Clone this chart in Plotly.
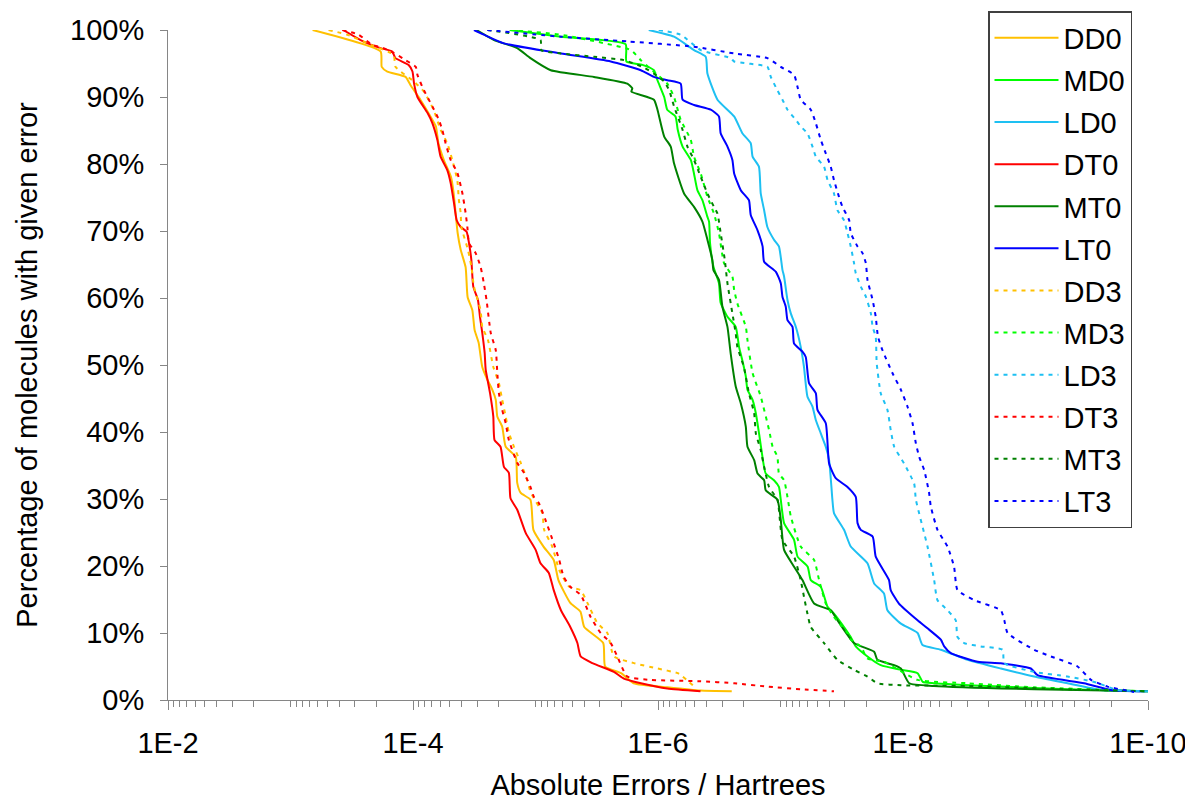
import plotly.graph_objects as go

# ---------------- data (absolute error in Hartrees, % of molecules) ----------------
DD0_err = [6.6e-4, 1.84e-4, 1.80e-4, 1.62e-4, 1.15e-4, 1.05e-4, 8.7e-5, 7.2e-5, 6.5e-5, 6.2e-5, 5.6e-5,
           4.9e-5, 4.66e-5, 4.49e-5, 4.32e-5, 4.08e-5, 3.72e-5, 3.58e-5, 3.28e-5, 3.14e-5, 2.91e-5,
           2.72e-5, 2.47e-5, 2.25e-5, 2.11e-5, 2.05e-5, 1.87e-5, 1.75e-5, 1.45e-5, 1.41e-5, 1.32e-5,
           1.10e-5, 1.04e-5, 8.6e-6, 7.1e-6, 6.5e-6, 5.2e-6, 4.3e-6, 4.0e-6, 2.8e-6, 2.7e-6, 2.0e-6,
           1.58e-6, 8.4e-7, 4.5e-7, 2.5e-7]
DD0_pct = [100, 96.8, 94.5, 93.8, 93.0, 91.8, 89.6, 87.1, 85.6, 83.1, 80.6,
           78.1, 75.7, 72.7, 69.7, 67.2, 64.6, 60.1, 58.2, 55.2, 53.3,
           49.7, 47.8, 46.3, 44.8, 42.3, 40.8, 37.8, 36.3, 32.4, 30.9,
           29.9, 25.4, 22.9, 20.9, 17.9, 14.5, 13.2, 10.9, 8.5, 5.0, 4.0,
           2.5, 1.9, 1.4, 1.3]

DT0_err = [3.71e-4, 2.68e-4, 1.84e-4, 1.48e-4, 1.39e-4, 1.09e-4, 1.01e-4, 9.8e-5, 9.2e-5, 7.6e-5, 6.95e-5,
           6.33e-5, 5.95e-5, 5.25e-5, 4.93e-5, 4.63e-5, 4.40e-5, 4.08e-5, 3.65e-5, 3.49e-5, 3.34e-5,
           3.22e-5, 2.95e-5, 2.84e-5, 2.72e-5, 2.60e-5, 2.55e-5, 2.35e-5, 2.21e-5, 2.16e-5, 1.93e-5,
           1.81e-5, 1.65e-5, 1.60e-5, 1.41e-5, 1.20e-5, 9.97e-6, 9.1e-6, 7.8e-6, 7.1e-6, 6.2e-6,
           5.2e-6, 4.55e-6, 4.28e-6, 3.43e-6, 2.29e-6, 1.90e-6, 1.38e-6, 8.4e-7, 4.5e-7]
DT0_pct = [100, 98.5, 97.3, 96.8, 95.8, 94.8, 93.8, 92.0, 90.0, 87.6, 86.1,
           83.6, 81.1, 79.1, 77.2, 74.2, 71.6, 70.6, 69.9, 68.2, 65.7,
           61.7, 59.7, 57.2, 54.8, 51.8, 49.3, 45.8, 42.3, 38.8, 37.8,
           34.8, 33.9, 30.1, 28.4, 24.9, 22.4, 20.4, 19.0, 16.4, 13.4,
           10.9, 8.5, 6.5, 5.5, 4.2, 3.2, 2.5, 1.7, 1.3]

DD3_err = [4.89e-4, 3.44e-4, 2.22e-4, 1.44e-4, 1.39e-4, 9.8e-5, 8.15e-5, 6.79e-5, 5.95e-5, 5.25e-5, 4.78e-5,
           4.35e-5, 4.22e-5, 4.08e-5, 4.03e-5, 3.56e-5, 3.34e-5, 3.18e-5, 2.81e-5, 2.72e-5, 2.44e-5,
           2.21e-5, 1.99e-5, 1.87e-5, 1.75e-5, 1.65e-5, 1.50e-5, 1.32e-5, 1.17e-5, 1.09e-5, 8.8e-6,
           8.5e-6, 7.3e-6, 6.4e-6, 5.3e-6, 4.28e-6, 3.77e-6, 3.13e-6, 2.59e-6, 2.29e-6, 1.57e-6,
           1.01e-6, 6.9e-7, 6.3e-7, 5.2e-7]
DD3_pct = [100, 99.3, 97.8, 96.3, 94.5, 92.3, 90.8, 88.1, 85.1, 83.1, 80.6,
           77.6, 74.6, 72.7, 70.6, 67.2, 64.7, 61.7, 58.2, 55.7, 53.7,
           49.7, 47.3, 44.8, 42.3, 39.9, 37.8, 35.4, 32.8, 30.9, 27.9,
           25.4, 22.9, 19.4, 16.9, 16.4, 14.5, 11.5, 10.0, 6.5, 5.5,
           4.7, 4.0, 3.5, 2.2]

DT3_err = [3.78e-4, 2.78e-4, 2.15e-4, 1.74e-4, 1.44e-4, 1.15e-4, 9.5e-5, 9.2e-5, 8.15e-5, 6.95e-5, 6.15e-5,
           5.77e-5, 5.42e-5, 4.93e-5, 4.35e-5, 3.96e-5, 3.72e-5, 3.60e-5, 3.49e-5, 3.08e-5, 2.81e-5,
           2.64e-5, 2.51e-5, 2.32e-5, 2.11e-5, 2.05e-5, 1.99e-5, 1.87e-5, 1.75e-5, 1.65e-5, 1.41e-5,
           1.24e-5, 1.10e-5, 1.03e-5, 9.4e-6, 8.3e-6, 7.1e-6, 6.4e-6, 5.9e-6, 5.2e-6, 4.28e-6,
           3.55e-6, 2.94e-6, 2.43e-6, 2.15e-6, 1.78e-6, 1.15e-6, 4.5e-7, 2.39e-7, 1.28e-7, 6.8e-8, 3.66e-8]
DT3_pct = [100, 99.3, 97.8, 97.3, 96.6, 95.5, 94.5, 93.3, 91.0, 88.6, 86.6,
           85.1, 83.1, 80.6, 78.7, 75.7, 72.7, 70.6, 68.2, 66.7, 64.7,
           62.2, 59.7, 54.8, 52.2, 48.8, 45.8, 43.3, 41.3, 38.8, 35.4,
           33.9, 31.8, 30.3, 29.4, 26.9, 23.4, 20.9, 18.4, 16.9, 15.7,
           12.4, 10.0, 8.5, 6.5, 3.5, 3.0, 2.8, 2.5, 2.0, 1.6, 1.3]

MD0_err = [1.62e-5, 6.2e-6, 1.84e-6, 1.81e-6, 1.34e-6, 1.08e-6, 1.01e-6, 8.9e-7, 8.4e-7, 7.2e-7, 6.9e-7,
           6.3e-7, 5.4e-7, 5.1e-7, 4.77e-7, 4.34e-7, 3.95e-7, 3.83e-7, 3.76e-7, 3.53e-7, 3.18e-7,
           3.08e-7, 2.71e-7, 2.32e-7, 2.18e-7, 2.05e-7, 1.92e-7, 1.86e-7, 1.69e-7, 1.59e-7, 1.50e-7,
           1.43e-7, 1.32e-7, 1.13e-7, 1.03e-7, 9.95e-8, 9.35e-8, 7.75e-8, 7.26e-8, 6.0e-8, 5.66e-8,
           4.69e-8, 4.13e-8, 3.66e-8, 3.03e-8, 2.67e-8, 2.43e-8, 1.95e-8, 1.52e-8, 1.04e-8, 7.6e-9,
           6.9e-9, 5.6e-9, 1.59e-9, 4.54e-10, 1.0e-10]
MD0_pct = [100, 99.0, 97.9, 95.3, 94.8, 94.0, 92.5, 90.0, 88.1, 87.1, 85.1,
           82.6, 80.6, 78.7, 76.1, 74.6, 72.1, 71.4, 68.2, 64.7, 62.2,
           59.3, 57.2, 55.7, 52.7, 50.7, 48.3, 46.3, 44.8, 42.8, 39.9,
           37.3, 33.8, 32.8, 31.8, 29.9, 26.4, 23.9, 21.4, 19.9, 17.9,
           16.9, 13.9, 12.9, 10.9, 9.4, 8.0, 6.5, 5.2, 4.5, 4.0,
           2.7, 2.5, 2.0, 1.6, 1.3]

MT0_err = [3.03e-5, 2.18e-5, 1.41e-5, 1.10e-5, 7.5e-6, 3.33e-6, 1.78e-6, 1.62e-6, 1.65e-6, 1.08e-6, 1.01e-6,
           8.9e-7, 7.87e-7, 7.4e-7, 6.13e-7, 5.08e-7, 4.34e-7, 3.95e-7, 3.6e-7, 3.53e-7, 3.18e-7,
           2.98e-7, 2.71e-7, 2.55e-7, 2.32e-7, 2.11e-7, 1.92e-7, 1.86e-7, 1.64e-7, 1.54e-7, 1.36e-7,
           1.32e-7, 1.06e-7, 9.95e-8, 9.35e-8, 7.75e-8, 6.62e-8, 5.32e-8, 3.89e-8, 3.43e-8, 2.51e-8,
           1.72e-8, 1.62e-8, 1.18e-8, 1.04e-8, 8.9e-9, 5.6e-9, 8.5e-10, 1.0e-10]
MT0_pct = [100, 98.5, 97.3, 95.8, 94.0, 93.0, 92.0, 91.3, 90.8, 89.6, 88.1,
           84.1, 82.6, 80.1, 75.6, 73.6, 71.4, 68.7, 65.7, 64.2, 62.7,
           58.7, 55.7, 51.7, 46.8, 44.3, 40.8, 37.8, 35.8, 33.8, 32.8,
           31.3, 29.9, 26.9, 22.4, 19.9, 17.9, 14.4, 13.4, 11.9, 8.5,
           7.2, 6.0, 5.2, 4.7, 2.5, 2.1, 1.6, 1.3]

MD3_err = [1.62e-5, 6.2e-6, 1.67e-6, 1.38e-6, 1.04e-6, 8.4e-7, 7.4e-7, 6.53e-7, 5.4e-7, 5.08e-7, 4.48e-7,
           3.95e-7, 3.49e-7, 3.18e-7, 2.89e-7, 2.47e-7, 2.39e-7, 2.25e-7, 1.92e-7, 1.86e-7, 1.69e-7,
           1.45e-7, 1.24e-7, 1.16e-7, 1.06e-7, 1.03e-7, 9.35e-8, 8.77e-8, 8.24e-8, 6.84e-8, 5.32e-8,
           4.84e-8, 4.27e-8, 3.66e-8, 2.84e-8, 2.67e-8, 2.21e-8, 1.95e-8, 1.43e-8, 7.6e-9, 2.97e-9,
           8.5e-10, 1.0e-10]
MD3_pct = [100, 99.3, 97.0, 95.5, 93.5, 92.0, 90.0, 86.6, 83.6, 81.1, 78.6,
           75.1, 72.6, 69.7, 65.2, 63.2, 61.2, 59.2, 55.7, 53.7, 48.8,
           45.3, 40.3, 37.8, 36.3, 33.8, 32.8, 30.3, 27.4, 22.9, 20.9,
           17.9, 14.4, 12.4, 10.0, 9.0, 8.0, 6.2, 5.7, 3.0, 2.5,
           1.9, 1.3]

MT3_err = [2.47e-5, 9.1e-6, 9.0e-6, 6.2e-6, 3.33e-6, 1.9e-6, 1.34e-6, 1.08e-6, 8.9e-7, 8.1e-7, 7.4e-7,
           6.3e-7, 5.75e-7, 5.08e-7, 4.48e-7, 3.95e-7, 3.49e-7, 3.27e-7, 3.08e-7, 2.85e-7, 2.71e-7,
           2.47e-7, 2.32e-7, 2.25e-7, 1.99e-7, 1.81e-7, 1.64e-7, 1.59e-7, 1.45e-7, 1.36e-7, 1.24e-7,
           1.06e-7, 9.64e-8, 7.75e-8, 6.84e-8, 6.43e-8, 6.03e-8, 5.66e-8, 4.41e-8, 3.43e-8, 2.51e-8,
           1.95e-8, 1.62e-8, 1.04e-8, 2.97e-9, 4.54e-10, 1.0e-10]
MT3_pct = [100, 98.5, 97.0, 96.5, 96.0, 95.5, 94.5, 93.5, 92.3, 91.0, 88.6,
           85.1, 82.6, 80.6, 78.1, 75.6, 73.6, 72.6, 69.7, 65.7, 62.2,
           57.7, 54.7, 52.7, 49.7, 45.8, 42.8, 39.8, 37.3, 34.8, 31.8,
           29.9, 23.9, 21.4, 17.9, 15.4, 12.9, 10.9, 8.5, 6.0, 4.5,
           3.5, 2.5, 2.2, 2.1, 1.6, 1.3]

LT0_err = [3.18e-5, 2.64e-5, 1.81e-5, 6.2e-6, 2.43e-6, 1.38e-6, 1.08e-6, 8.4e-7, 6.53e-7, 6.3e-7, 5.08e-7,
           3.71e-7, 3.18e-7, 3.08e-7, 2.71e-7, 2.47e-7, 2.39e-7, 2.11e-7, 1.81e-7, 1.75e-7, 1.54e-7,
           1.40e-7, 1.36e-7, 1.09e-7, 9.95e-8, 9.64e-8, 9.06e-8, 8.77e-8, 7.98e-8, 7.75e-8, 6.62e-8,
           6.22e-8, 5.85e-8, 5.15e-8, 4.99e-8, 4.27e-8, 4.01e-8, 3.54e-8, 2.84e-8, 2.43e-8, 2.35e-8,
           2.21e-8, 1.77e-8, 1.67e-8, 1.30e-8, 1.26e-8, 1.08e-8, 7.6e-9, 6.31e-9, 4.91e-9, 4.61e-9,
           4.07e-9, 2.46e-9, 1.59e-9, 9.04e-10, 7.97e-10, 3.32e-10, 2.01e-10, 1.05e-10]
LT0_pct = [100, 99.3, 98.0, 96.5, 95.3, 94.0, 93.0, 92.5, 92.0, 89.6, 88.8,
           88.1, 87.1, 84.6, 82.6, 80.6, 78.6, 76.1, 74.6, 72.4, 70.1,
           67.7, 65.4, 63.9, 62.2, 60.2, 58.7, 56.7, 55.7, 53.2, 52.0,
           51.2, 47.3, 45.8, 43.3, 41.3, 35.3, 33.1, 31.8, 30.3, 26.4,
           25.4, 24.4, 21.4, 17.9, 16.4, 14.4, 11.9, 10.7, 9.0, 8.0,
           7.0, 5.7, 5.5, 4.7, 3.7, 2.5, 1.5, 1.3]

LD0_err = [1.19e-6, 7.4e-7, 5.08e-7, 4.08e-7, 3.95e-7, 3.27e-7, 2.39e-7, 2.05e-7, 1.75e-7, 1.69e-7, 1.50e-7,
           1.45e-7, 1.36e-7, 1.28e-7, 1.13e-7, 1.03e-7, 9.64e-8, 9.35e-8, 8.77e-8, 8.24e-8, 7.5e-8,
           6.84e-8, 6.43e-8, 6.03e-8, 5.48e-8, 5.15e-8, 4.69e-8, 4.27e-8, 4.01e-8, 3.84e-8, 3.77e-8,
           3.66e-8, 3.03e-8, 2.67e-8, 1.95e-8, 1.72e-8, 1.43e-8, 1.34e-8, 1.04e-8, 7.6e-9, 6.93e-9,
           4.91e-9, 2.97e-9, 1.59e-9, 8.5e-10, 4.54e-10, 2.43e-10, 1.0e-10]
LD0_pct = [100, 99.0, 97.0, 96.0, 93.5, 89.6, 87.1, 84.6, 83.1, 81.1, 79.6,
           75.6, 73.1, 70.6, 68.7, 67.7, 64.2, 63.2, 59.7, 57.7, 55.7,
           52.7, 49.7, 45.3, 43.8, 41.8, 39.8, 37.8, 35.8, 31.8, 29.9,
           27.9, 25.4, 22.9, 20.4, 17.4, 15.9, 13.4, 11.4, 10.0, 8.2,
           7.5, 6.0, 4.7, 3.5, 2.5, 1.5, 1.3]

LD3_err = [9.86e-7, 6.53e-7, 4.48e-7, 2.55e-7, 2.39e-7, 1.28e-7, 1.20e-7, 1.06e-7, 9.64e-8, 8.77e-8, 7.5e-8,
           6.84e-8, 6.03e-8, 5.48e-8, 5.15e-8, 4.41e-8, 4.13e-8, 3.66e-8, 3.43e-8, 3.03e-8, 2.84e-8,
           2.67e-8, 2.51e-8, 2.43e-8, 2.21e-8, 2.01e-8, 1.83e-8, 1.77e-8, 1.67e-8, 1.64e-8, 1.52e-8,
           1.34e-8, 1.26e-8, 1.18e-8, 9.8e-9, 8.11e-9, 7.85e-9, 6.31e-9, 5.57e-9, 5.23e-9, 4.33e-9,
           3.71e-9, 3.59e-9, 3.17e-9, 2.32e-9, 1.54e-9, 1.49e-9, 8.5e-10, 4.54e-10, 2.75e-10, 1.77e-10, 1.0e-10]
LD3_pct = [100, 99.3, 97.0, 95.8, 95.3, 94.5, 93.0, 91.0, 89.6, 88.1, 86.6,
           85.6, 84.6, 82.6, 81.1, 79.6, 77.6, 75.6, 73.1, 71.6, 69.7,
           67.7, 65.2, 63.7, 61.7, 60.2, 57.7, 55.7, 54.2, 50.3, 45.8,
           43.3, 40.3, 37.8, 35.3, 32.3, 29.9, 22.9, 17.9, 14.9, 13.4,
           11.9, 9.4, 8.5, 8.0, 7.5, 5.5, 4.2, 3.5, 2.7, 1.5, 1.3]

LT3_err = [2.47e-5, 6.2e-6, 1.78e-6, 5.08e-7, 2.39e-7, 1.28e-7, 9.95e-8, 7.75e-8, 7.26e-8, 6.84e-8, 5.66e-8,
           5.15e-8, 4.69e-8, 4.27e-8, 3.89e-8, 3.66e-8, 3.33e-8, 3.12e-8, 2.75e-8, 2.67e-8, 2.35e-8,
           2.14e-8, 2.01e-8, 1.95e-8, 1.77e-8, 1.67e-8, 1.60e-8, 1.47e-8, 1.22e-8, 1.04e-8, 9.2e-9,
           8.36e-9, 7.85e-9, 7.38e-9, 6.71e-9, 6.12e-9, 5.93e-9, 5.23e-9, 4.33e-9, 3.83e-9, 3.59e-9,
           2.62e-9, 1.59e-9, 1.49e-9, 1.40e-9, 8.5e-10, 6.21e-10, 3.76e-10, 2.92e-10, 2.14e-10, 1.30e-10]
LT3_pct = [100, 99.0, 98.3, 97.5, 96.5, 95.8, 94.5, 93.3, 91.5, 89.6, 88.1,
           86.1, 83.6, 81.6, 79.6, 77.6, 75.1, 73.6, 71.6, 69.7, 67.7,
           66.7, 65.2, 62.7, 59.7, 57.2, 54.2, 52.2, 48.8, 46.3, 43.8,
           41.3, 38.3, 36.3, 34.3, 30.9, 28.9, 25.4, 22.9, 19.9, 16.4,
           14.9, 13.4, 11.9, 10.0, 7.5, 6.5, 5.0, 3.0, 2.0, 1.2]

series_names = ["DD0", "MD0", "LD0", "DT0", "MT0", "LT0", "DD3", "MD3", "LD3", "DT3", "MT3", "LT3"]
series_err = [DD0_err, MD0_err, LD0_err, DT0_err, MT0_err, LT0_err,
              DD3_err, MD3_err, LD3_err, DT3_err, MT3_err, LT3_err]
series_pct = [DD0_pct, MD0_pct, LD0_pct, DT0_pct, MT0_pct, LT0_pct,
              DD3_pct, MD3_pct, LD3_pct, DT3_pct, MT3_pct, LT3_pct]
series_colors = ["#FFC000", "#00FF00", "#1EC0F2", "#FF0000", "#008000", "#0000FF",
                 "#FFC000", "#00FF00", "#1EC0F2", "#FF0000", "#008000", "#0000FF"]
series_dash = ["solid"] * 6 + ["4px,5px"] * 6

x_major_vals = [1e-2, 1e-4, 1e-6, 1e-8, 1e-10]
x_major_text = ["1E-2", "1E-4", "1E-6", "1E-8", "1E-10"]
y_tick_vals = [0, 10, 20, 30, 40, 50, 60, 70, 80, 90, 100]
y_tick_text = ["0%", "10%", "20%", "30%", "40%", "50%", "60%", "70%", "80%", "90%", "100%"]

FONT = "Arial, 'Liberation Sans', sans-serif"

fig = go.Figure()
for name, xs, ys, col, dash in zip(series_names, series_err, series_pct, series_colors, series_dash):
    fig.add_trace(go.Scatter(
        x=xs, y=ys, mode="lines", name=name, legendgroup=name,
        line=dict(color=col, width=2, dash=dash, shape="spline", smoothing=0.5),
        cliponaxis=False,
    ))

minor_vals = []
for n in range(2, 11):
    for k in range(1, 10):
        v = k * 10.0 ** (-n)
        if 1e-10 <= v <= 1e-2 and v not in x_major_vals:
            minor_vals.append(v)

# page has an 8px body margin; figure is sized/margined so the plot area
# lands at x 168..1148, y 30..700 in the 1193x801 window
fig.update_layout(
    width=1185, height=793,
    margin=dict(l=160, r=45, t=22, b=101, autoexpand=False),
    paper_bgcolor="white", plot_bgcolor="white",
    font=dict(family=FONT, size=29, color="black"),
    showlegend=True,
    legend=dict(
        x=(980 - 160) / 980, y=(692 - 3) / 670, xanchor="left", yanchor="top",
        bordercolor="#404040", borderwidth=1.5, bgcolor="white",
        font=dict(family=FONT, size=29, color="black"),
        itemwidth=64, tracegroupgap=1.4, maxheight=700,
    ),
    xaxis=dict(
        type="log", range=[-2, -10], automargin=False,
        tickvals=x_major_vals, ticktext=x_major_text,
        ticks="outside", ticklen=9, tickcolor="#868686", tickwidth=1,
        ticklabelstandoff=8,
        showline=True, linecolor="#868686", linewidth=1,
        showgrid=False, zeroline=False,
        tickfont=dict(family=FONT, size=29),
        minor=dict(tickvals=minor_vals, ticks="outside", ticklen=6, tickcolor="#868686", showgrid=False),
        title=dict(text="Absolute Errors / Hartrees", font=dict(family=FONT, size=29), standoff=18),
    ),
    yaxis=dict(
        range=[0, 100], tickvals=y_tick_vals, ticktext=y_tick_text, automargin=False,
        ticks="outside", ticklen=7, tickcolor="#868686", tickwidth=1,
        ticklabelstandoff=10,
        showline=True, linecolor="#868686", linewidth=1,
        showgrid=False, zeroline=False,
        tickfont=dict(family=FONT, size=29),
        title=dict(text="Percentage of molecules with given error", font=dict(family=FONT, size=29), standoff=23),
    ),
)

fig.write_html("out.html")
